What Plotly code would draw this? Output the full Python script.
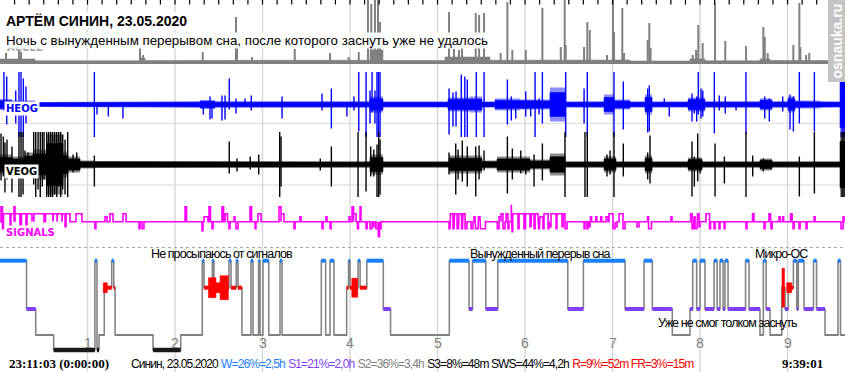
import plotly.graph_objects as go

# ---------------- data (time in minutes from the left edge of the chart) ----------------
T_END = 579.4
hour_ticks = [60, 120, 180, 240, 300, 360, 420, 480, 540]
hour_labels = ["1", "2", "3", "4", "5", "6", "7", "8", "9"]
minor_tick_step = 10

# ACCEL: background level (start time, height) and spikes
accel_env_t = [0, 24.0, 96.0, 99.4, 157.7, 253.7, 262.6, 305.1, 336.0, 384.0, 432.0, 473.1, 483.4, 521.1, 528.0]
accel_env_a = [3, 1.2, 4, 1.5, 1.8, 12, 1.5, 5, 1.8, 2, 1, 3, 1.2, 3, 1.5]
accel_spk_t = [4.1, 13.0, 14.4, 96.0, 98.1, 139.0, 161.8, 162.5, 172.8, 202.1, 226.3, 239.1, 246.0, 252.3, 254.6,
               257.1, 259.2, 260.6, 307.9, 311.3, 314.7, 316.8, 326.2, 328.5, 331.9, 343.3, 347.9, 351.3, 360.5, 371.9,
               384.5, 387.2, 387.9, 400.5, 402.7, 404.4, 416.2, 420.3, 421.0, 426.7, 427.9, 444.1, 445.2, 446.1, 475.0,
               477.3, 478.8, 481.8, 490.3, 497.3, 511.5, 523.4, 524.4, 526.4, 544.0, 548.1, 548.8, 552.7, 554.9]
accel_spk_h = [9, 12, 10, 14, 7, 10, 45, 15, 5, 13, 9, 5, 10, 62, 58,
               62, 62, 40, 50, 13, 12, 14, 49, 47, 49, 9, 60, 12, 12, 54,
               15, 62, 17, 15, 40, 32, 7, 62, 30, 54, 9, 22, 39, 14, 7,
               12, 37, 19, 59, 21, 16, 35, 25, 9, 17, 59, 15, 7, 9]

# HEOG: background amplitude (start time, half-range) and spikes
heog_env_t = [0, 8.2, 24.0, 32.2, 137.1, 147.4, 253.7, 262.6, 307.2, 322.3, 330.5, 339.4, 356.6, 377.1, 387.4,
              399.1, 414.2, 421.0, 432.0, 442.3, 447.1, 471.8, 483.4, 521.1, 529.4, 540.3, 545.1, 562.3, 576.0]
heog_env_a = [5.5, 4, 2.5, 3.2, 4.5, 3.2, 8, 3.1, 7, 8, 3.1, 6, 5, 17, 3.1,
              3.2, 10, 5, 3.1, 10, 3.1, 7, 3.2, 6, 3.2, 8, 4, 3.1, 33]
heog_spk_t = [2.7, 4.6, 10.8, 13.0, 14.4, 16.0, 17.8, 64.7, 66.5, 74.3, 84.3, 139.4, 144.0, 145.4, 152.2, 154.3,
              157.2, 161.8, 168.0, 172.3, 193.4, 220.8, 227.2, 237.9, 242.7, 246.0, 251.0, 253.7, 255.1, 257.1,
              258.5, 259.5, 260.6, 307.9, 310.6, 312.7, 316.3, 318.7, 320.4, 326.6, 331.9, 347.9, 350.6, 353.6,
              360.5, 363.9, 366.9, 369.6, 371.9, 387.9, 400.5, 402.7, 421.0, 427.4, 444.1, 445.2, 455.5, 458.9,
              474.5, 476.1, 477.7, 478.8, 480.7, 481.9, 489.8, 493.2, 497.3, 504.7, 511.5, 524.4, 527.5, 536.7,
              541.7, 544.0, 548.1, 558.4, 577.4, 578.7]
heog_spk_hi = [40, 28, 14, 40, 40, 26, 18, 40, 0, 0, 0, 0, 8, 0, 9, 9, 26, 6, 6, 9,
               8, 11, 16, 0, 8, 40, 40, 14, 40, 14, 40, 40, 40, 16, 12, 13, 30, 28, 25, 40,
               40, 25, 8, 0, 13, 4, 40, 6, 40, 40, 16, 40, 40, 23, 16, 19, 6, 0, 11, 0,
               8, 40, 16, 14, 40, 9, 8, 0, 40, 8, 6, 8, 10, 8, 40, 40, 40, 40]
heog_spk_lo = [-6, -20, -19, -40, -40, -40, -19, -40, -10, -12, -14, -10, -15, -14, -16, -15, -5, -9, 0, -6,
               -14, -6, -24, -12, -6, -27, -40, -19, -8, -19, -40, -40, -40, -30, -22, -22, -40, -40, -40, -40,
               -40, -20, -16, -14, -12, -12, -40, -10, -19, -40, -19, -40, -40, -25, -28, -27, 0, -12, -17, -9,
               -17, -10, -14, -12, -29, -6, -9, -6, -29, -14, -17, -7, -25, -27, -19, -27, -40, -40]

# VEOG
veog_env_t = [0, 8.2, 17.1, 22.6, 32.2, 43.2, 46.6, 54.9, 65.1, 253.7, 262.6, 307.9, 330.5, 340.8, 363.4, 377.1,
              387.4, 414.2, 422.4, 442.3, 447.1, 471.8, 481.4, 521.1, 529.4, 576.0]
veog_env_a = [10, 8, 12, 15, 30, 13, 8, 4, 3.2, 10, 3.2, 9, 4, 8, 5, 11,
              3.2, 8, 3.2, 9, 3.2, 7, 3.2, 6, 3.2, 33]
veog_spk_t = [0.7, 2.3, 3.4, 4.8, 8.2, 13.0, 14.4, 15.8, 17.1, 19.2, 23.1, 24.5, 26.1, 27.6, 29.0, 30.2, 32.0,
              33.4, 34.8, 36.1, 37.5, 38.9, 40.3, 41.6, 43.0, 44.6, 46.4, 50.1, 52.6, 64.7, 157.2, 162.5, 171.6,
              177.4, 191.8, 192.7, 219.6, 227.2, 245.5, 251.0, 254.2, 256.3, 258.5, 259.7, 260.6, 307.9, 312.5,
              314.1, 317.0, 320.4, 326.2, 328.5, 331.9, 347.9, 351.3, 357.1, 360.5, 366.2, 371.9, 387.4, 401.1,
              402.7, 416.2, 418.3, 421.0, 427.4, 444.1, 445.7, 474.5, 476.1, 478.4, 480.0, 490.3, 496.7, 511.5,
              516.1, 523.4, 548.1, 558.4, 577.4, 578.7]
veog_spk_hi = [31, 28, 22, 25, 18, 40, 40, 40, 14, 12, 40, 40, 40, 40, 40, 35, 40, 40, 40, 40,
               40, 40, 40, 35, 30, 25, 40, 10, 12, 9, 23, 6, 8, 10, 40, 28, 6, 18, 40, 35,
               18, 15, 20, 40, 25, 12, 21, 15, 24, 18, 18, 19, 14, 28, 16, 14, 6, 10, 21, 40,
               40, 35, 10, 14, 40, 21, 12, 29, 23, 8, 31, 6, 21, 8, 40, 9, 6, 8, 40, 40, 40]
veog_spk_lo = [-16, -12, -28, -15, -28, -40, -40, -30, -10, -6, -20, -40, -25, -40, -22, -15, -40, -40, -40, -40,
               -30, -40, -22, -40, -25, -30, -40, -8, -6, -22, -9, -7, -5, -10, -40, -22, -6, -22, -40, -27,
               -12, -12, -40, -40, -30, -10, -30, -15, -17, -22, -32, -15, -6, -29, -15, -9, -10, -22, -16, -40,
               -40, -40, -12, -10, -40, -12, -15, -19, -32, -22, -17, -9, -32, -19, -40, -12, -7, -32, -29, -40, -40]

# SIGNALS: pulses (start, end, level)
sig_t0 = [0.7, 1.7, 2.4, 6.9, 7.5, 9.6, 10.3, 13.7, 14.7, 17.8, 18.5, 21.9, 23.3, 31.2, 36.7, 39.4, 42.9, 44.6, 45.3, 52.1,
          65.1, 72.0, 75.4, 84.3, 95.3, 97.4, 126.9, 138.5, 139.9, 143.3, 145.4, 152.2, 154.3, 157.0, 160.5, 161.8, 171.4, 174.9, 176.9, 191.3,
          192.7, 201.6, 205.7, 220.8, 223.5, 226.3, 239.3, 241.4, 242.4, 245.1, 246.9, 251.0, 253.7, 255.8, 257.8, 259.5, 260.2,
          307.9, 308.9, 310.6, 311.7, 313.4, 314.7, 316.5, 317.5, 318.9, 323.0, 325.0, 326.1, 328.1, 329.5,
          341.0, 342.2, 343.5, 344.9, 347.0, 348.3, 350.6, 351.1, 351.6, 355.2, 355.9, 359.3, 360.3, 363.4, 364.5, 366.2, 366.9, 369.3,
          370.3, 372.3, 373.0, 375.8, 376.8, 377.8, 381.3, 381.9, 385.4, 386.1, 387.4,
          400.5, 402.5, 403.9, 404.9, 408.5, 411.9, 415.5, 417.6, 420.3, 421.7, 424.5, 427.2,
          436.8, 444.0, 444.7, 460.1, 473.6, 474.5, 475.9, 476.6, 478.3, 479.3, 484.1, 486.5, 489.6, 493.0, 496.5, 511.5, 516.0,
          523.9, 527.3, 528.7, 534.2, 536.6, 542.1, 543.8, 547.9, 552.7, 558.2, 576.7, 578.1]
sig_t1 = [1.7, 2.4, 6.9, 7.5, 9.6, 10.3, 13.7, 14.7, 17.8, 18.5, 21.9, 23.3, 30.2, 36.3, 39.1, 42.5, 44.6, 45.3, 48.0, 56.2,
          65.8, 73.4, 77.5, 86.4, 96.0, 98.7, 127.9, 139.2, 142.6, 144.3, 146.1, 153.3, 156.0, 157.7, 161.1, 163.2, 172.5, 175.5, 179.0, 192.7,
          194.7, 202.3, 206.4, 221.5, 224.2, 227.0, 240.0, 242.4, 244.1, 245.8, 247.5, 251.7, 255.1, 257.1, 259.2, 260.2, 261.3,
          308.6, 310.6, 311.3, 313.4, 314.4, 316.5, 317.1, 318.9, 320.2, 324.3, 325.7, 327.8, 329.1, 332.9,
          342.2, 343.5, 344.9, 346.3, 348.3, 349.0, 351.1, 351.6, 355.2, 355.9, 359.3, 360.3, 363.4, 364.1, 366.2, 366.9, 368.9, 369.9,
          372.3, 373.0, 375.8, 376.5, 377.8, 381.3, 381.9, 385.4, 386.1, 387.4, 388.8,
          401.1, 403.2, 404.6, 405.6, 409.2, 412.6, 416.9, 420.3, 421.7, 423.1, 427.2, 428.6,
          438.2, 444.7, 446.7, 460.8, 474.5, 475.5, 476.6, 477.9, 479.3, 480.0, 486.5, 487.2, 490.3, 493.7, 497.1, 512.2, 517.0,
          524.6, 528.3, 529.4, 534.9, 537.3, 543.1, 544.5, 548.6, 553.4, 558.9, 578.1, 578.7]
sig_lv = [15, -7, 8, -7, 8, 15, 8, -7, 8, -5, 8, 4, 8, 8, 8, 8, 8, -5, 8, 8,
          -7, 5, 8, 8, -7, -7, 15, -9, 5, 15, -7, 15, 8, -7, 5, -7, 15, -7, 8, 15,
          8, -7, 5, -7, 5, -7, 5, 15, 8, -7, 15, -7, -7, -5, -7, -15, -7,
          -7, 8, -7, 8, -7, 8, -7, 8, -7, -7, 5, -7, 5, -7,
          -7, 5, 8, -7, 8, -7, 17, -10, 8, -7, 8, -7, 8, -5, 8, -7, 8, -7,
          5, -7, 8, -7, -5, 8, -7, 8, -5, 8, -7,
          -7, -7, -5, 5, 5, 5, 5, 8, -7, -5, 8, -7,
          -5, 5, -7, 5, 8, -7, 5, -7, 8, -5, 8, -7, -7, -7, -7, -7, 8,
          -7, 8, -7, 5, 5, 8, -7, -7, -7, 5, -7, 5]

# Hypnogram: epoch start times and stages
hyp_t = [0, 18.2, 24.5, 36.8, 65.1, 66.5, 67.9, 71.5, 76.6, 78.0,
         78.9, 104.9, 123.9, 138.7, 139.9, 145.6, 146.7, 157.0, 158.4, 162.0,
         163.2, 165.9, 172.1, 173.5, 177.3, 178.3, 180.3, 184.3, 192.0, 193.4,
         220.3, 223.3, 226.3, 229.0, 237.7, 239.0, 240.0, 245.5, 246.9, 251.5,
         262.8, 267.8, 308.1, 321.6, 324.0, 333.1, 341.3, 389.3, 400.0, 428.6,
         441.6, 447.3, 461.0, 473.1, 475.0, 477.7, 480.0, 483.4, 489.6, 491.7,
         493.7, 495.8, 497.1, 499.2, 511.2, 513.6, 521.1, 523.4, 525.3, 528.0,
         536.0, 538.3, 540.5, 544.0, 546.3, 547.4, 551.3, 557.8, 559.9, 565.7,
         574.6, 576.3]
hyp_stage = ["W", "S1", "S2", "S3", "W", "S3", "S2", "R", "W", "R",
             "S2", "S3", "S2", "W", "R", "W", "R", "W", "R", "W",
             "R", "S2", "W", "S2", "W", "S2", "W", "S2", "W", "S2",
             "W", "S2", "W", "S2", "R", "W", "R", "W", "R", "W",
             "S1", "S2", "W", "S1", "W", "S1", "W", "S1", "W", "S1",
             "W", "S1", "S2", "S1", "W", "S1", "W", "S1", "W", "S1",
             "W", "S1", "W", "S1", "W", "S1", "S2", "W", "S1", "S2",
             "R", "S1", "R", "W", "S1", "W", "S1", "W", "S1", "S2",
             "W", "S2"]
# REM intensity blocks (start, end, half-height)
rem_t0 = [70.8, 142.9, 148.1, 150.9, 241.2, 536.2, 539.4]
rem_t1 = [73.6, 148.1, 150.9, 156.6, 245.3, 537.9, 542.9]
rem_h = [5, 10, 5, 12, 9.5, 19.5, 5]

title_text = "АРТЁМ СИНИН, 23.05.2020"
subtitle_text = "Ночь с вынужденным перерывом сна, после которого заснуть уже не удалось"
start_text = "23:11:03 (0:00:00)"
end_text = "9:39:01"
stats_parts = [("Синин, 23.05.2020", "#000000"), ("W=26%=2,5h", "#1a80ff"), ("S1=21%=2,0h", "#7f3fff"),
               ("S2=36%=3,4h", "#808080"), ("S3=8%=48m SWS=44%=4,2h", "#000000"), ("R=9%=52m FR=3%=15m", "#ff0000")]
notes = [("Не просыпаюсь от сигналов", 152.0, 117.7), ("Вынужденный перерыв сна", 370.1, 117.7),
         ("Микро-ОС", 536.0, 117.7), ("Уже не смог толком заснуть", 498.5, 48.7)]

# ---------------- styling ----------------
STAGE_Y = {"W": 111.3, "R": 84.3, "S1": 63.0, "S2": 37.0, "S3": 22.0}
STAGE_COLOR = {"W": "#1a80ff", "R": "#ff0000", "S1": "#7f3fff", "S2": "#808080", "S3": "#1a1a1a"}
STAGE_W = {"W": 4, "R": 4, "S1": 4, "S2": 2, "S3": 4.5}
SANS = "Liberation Sans, Arial, sans-serif"
SERIF = "Liberation Serif, Times New Roman, serif"
LBL = "DejaVu Sans, sans-serif"
TIGHT = "letter-spacing:-0.9px"
CORE = 0.7  # solid core of a noisy band, the rest drawn as a lighter fringe


def step_env(ts, amps, t_end):
    xs, ys = [], []
    for i, (t, a) in enumerate(zip(ts, amps)):
        t1 = ts[i + 1] if i + 1 < len(ts) else t_end
        xs += [t, t1]
        ys += [a, a]
    return xs, ys


def band(ts, amps, t_end, lower=None):
    xs, up = step_env(ts, amps, t_end)
    lo = [-v for v in up] if lower is None else [lower] * len(up)
    return xs + xs[::-1] + [xs[0]], up + lo[::-1] + [up[0]]


def spikes(ts, his, los):
    xs, ys = [], []
    for t, h, l in zip(ts, his, los):
        xs += [t, t, None]
        ys += [l, h, None]
    return xs, ys


def add_noise_band(fig, ts, amps, rgb, axis):
    bx, by = band(ts, amps, T_END)
    fig.add_trace(go.Scatter(x=bx, y=by, fill="toself", fillcolor="rgba(%s,0.45)" % rgb, mode="lines",
                             line=dict(width=0), yaxis=axis, hoverinfo="skip"))
    bx, by = band(ts, [a * CORE for a in amps], T_END)
    fig.add_trace(go.Scatter(x=bx, y=by, fill="toself", fillcolor="rgb(%s)" % rgb, mode="lines",
                             line=dict(color="rgb(%s)" % rgb, width=0.6), yaxis=axis, hoverinfo="skip"))


fig = go.Figure()

# ACCEL
bx, by = band(accel_env_t, accel_env_a, T_END, lower=-2.0)
fig.add_trace(go.Scatter(x=bx, y=by, fill="toself", fillcolor="#808080", mode="lines",
                         line=dict(color="#808080", width=0.6), yaxis="y", hoverinfo="skip"))
sx, sy = spikes(accel_spk_t, accel_spk_h, [0] * len(accel_spk_t))
fig.add_trace(go.Scatter(x=sx, y=sy, mode="lines", line=dict(color="#808080", width=2), yaxis="y", hoverinfo="skip"))

# HEOG
add_noise_band(fig, heog_env_t, heog_env_a, "0,0,255", "y2")
sx, sy = spikes(heog_spk_t, heog_spk_hi, heog_spk_lo)
fig.add_trace(go.Scatter(x=sx, y=sy, mode="lines", line=dict(color="#0000ff", width=1.4), yaxis="y2", hoverinfo="skip"))

# VEOG
add_noise_band(fig, veog_env_t, veog_env_a, "0,0,0", "y3")
sx, sy = spikes(veog_spk_t, veog_spk_hi, veog_spk_lo)
fig.add_trace(go.Scatter(x=sx, y=sy, mode="lines", line=dict(color="#000000", width=1.4), yaxis="y3", hoverinfo="skip"))

# SIGNALS
gx, gy = [0], [0]
for a, b, lv in zip(sig_t0, sig_t1, sig_lv):
    gx += [a, a, b, b]
    gy += [0, lv, lv, 0]
gx.append(T_END)
gy.append(0)
fig.add_trace(go.Scatter(x=gx, y=gy, mode="lines", line=dict(color="#ff00ff", width=1.6), yaxis="y4", hoverinfo="skip"))

# Hypnogram
step_x, step_y = [], []
segs = {s: ([], []) for s in STAGE_Y}
for i, (t, s) in enumerate(zip(hyp_t, hyp_stage)):
    t1 = hyp_t[i + 1] if i + 1 < len(hyp_t) else T_END
    step_x += [t, t1]
    step_y += [STAGE_Y[s], STAGE_Y[s]]
    segs[s][0].extend([t, t1, None])
    segs[s][1].extend([STAGE_Y[s], STAGE_Y[s], None])
fig.add_trace(go.Scatter(x=step_x, y=step_y, mode="lines", line=dict(color="#858585", width=1.6),
                         yaxis="y5", hoverinfo="skip"))
for s in ["S2", "S3", "S1", "W", "R"]:
    fig.add_trace(go.Scatter(x=segs[s][0], y=segs[s][1], mode="lines",
                             line=dict(color=STAGE_COLOR[s], width=STAGE_W[s]), yaxis="y5", hoverinfo="skip"))
rx, ry = [], []
for a, b, h in zip(rem_t0, rem_t1, rem_h):
    yc = STAGE_Y["R"]
    rx += [a, b, b, a, a, None]
    ry += [yc - h, yc - h, yc + h, yc + h, yc - h, None]
fig.add_trace(go.Scatter(x=rx, y=ry, fill="toself", fillcolor="#ff0000", mode="lines",
                         line=dict(color="#ff0000", width=0.5), yaxis="y5", hoverinfo="skip"))

# 10-minute ticks along the top edge (drawn in the ACCEL panel, whose top is y=62)
tk_x, tk_y = [], []
tk = minor_tick_step
while tk < T_END:
    tk_x += [tk, tk, None]
    tk_y += [62, 57.5, None]
    tk += minor_tick_step
fig.add_trace(go.Scatter(x=tk_x, y=tk_y, mode="lines", line=dict(color="#000000", width=1.2),
                         yaxis="y", hoverinfo="skip"))

# ---------------- layout ----------------
def paper_y(px):
    return (372 - px) / 372


shapes = []
for hx in hour_ticks:
    shapes.append(dict(type="line", xref="x", yref="paper", x0=hx, x1=hx, y0=0, y1=1,
                       line=dict(color="#d6d6d6", width=1.4), layer="below"))
for py in (61.7, 123.3, 185.0):
    shapes.append(dict(type="line", xref="paper", yref="paper", x0=0, x1=1, y0=paper_y(py), y1=paper_y(py),
                       line=dict(color="#d9d9d9", width=1), layer="below"))
shapes.append(dict(type="line", xref="paper", yref="paper", x0=0, x1=1, y0=paper_y(247.5), y1=paper_y(247.5),
                   line=dict(color="#a8a8a8", width=1, dash="3px,3px"), layer="below"))
shapes.append(dict(type="rect", xref="paper", yref="paper", x0=828 / 845, x1=1, y0=paper_y(82), y1=1,
                   fillcolor="#c4c4c4", line=dict(width=0), layer="above"))

ann = []
ann.append(dict(text="<b>ACCEL</b>", x=5 / 845, y=paper_y(47.5), xref="paper", yref="paper", xanchor="left",
                yanchor="middle", showarrow=False, font=dict(family=LBL, size=10, color="#a0a0a0")))
ann.append(dict(text="<b>" + title_text + "</b>", x=5 / 845, y=paper_y(21), xref="paper", yref="paper",
                xanchor="left", yanchor="middle", showarrow=False, font=dict(family=SANS, size=14, color="#000"),
                bgcolor="#ffffff", borderpad=0))
ann.append(dict(text=subtitle_text, x=5 / 845, y=paper_y(40), xref="paper", yref="paper",
                xanchor="left", yanchor="middle", showarrow=False, font=dict(family=SANS, size=13.3, color="#000"),
                bgcolor="#ffffff", borderpad=0))
for txt, col, py in (("HEOG", "#0000ff", 109), ("VEOG", "#000000", 171), ("SIGNALS", "#ff00ff", 232.5)):
    ann.append(dict(text="<b>" + txt + "</b>", x=4 / 845, y=paper_y(py), xref="paper", yref="paper",
                    xanchor="left", yanchor="middle", showarrow=False, font=dict(family=LBL, size=10, color=col),
                    bgcolor="#ffffff", borderpad=1))
ann.append(dict(text="<b>osnauka.ru</b>", x=836.5 / 845, y=paper_y(41), xref="paper", yref="paper",
                xanchor="center", yanchor="middle", textangle=-90, showarrow=False,
                font=dict(family=SANS, size=14, color="#ffffff")))
for hx, lab in zip(hour_ticks, hour_labels):
    ann.append(dict(text=lab, x=hx, y=29, xref="x", yref="y5", xanchor="center", yanchor="middle",
                    showarrow=False, font=dict(family=SANS, size=14, color="#808080")))
for txt, tx, ty in notes:
    ann.append(dict(text='<span style="%s">%s</span>' % (TIGHT, txt), x=tx, y=ty, xref="x", yref="y5",
                    xanchor="center", yanchor="middle", showarrow=False,
                    font=dict(family=SANS, size=12.5, color="#000")))
ann.append(dict(text="<b>" + start_text + "</b>", x=7 / 845, y=paper_y(363.5), xref="paper", yref="paper",
                xanchor="left", yanchor="middle", showarrow=False, font=dict(family=SERIF, size=13, color="#000")))
ann.append(dict(text="<b>" + end_text + "</b>", x=824.5 / 845, y=paper_y(363.5), xref="paper", yref="paper",
                xanchor="right", yanchor="middle", showarrow=False, font=dict(family=SERIF, size=13, color="#000")))
stats_html = " ".join('<span style="color:%s;%s">%s</span>' % (c, TIGHT, s) for s, c in stats_parts)
ann.append(dict(text=stats_html, x=129 / 845, y=paper_y(363.5), xref="paper", yref="paper",
                xanchor="left", yanchor="middle", showarrow=False, font=dict(family=SANS, size=12, color="#000")))

hidden = dict(visible=False, fixedrange=True)
fig.update_layout(
    width=845, height=372, margin=dict(l=0, r=0, t=0, b=0),
    paper_bgcolor="#ffffff", plot_bgcolor="rgba(0,0,0,0)", showlegend=False,
    xaxis=dict(range=[0, T_END], domain=[0, 1], anchor="y", showticklabels=False, showgrid=False,
               zeroline=False, showline=False, ticks="", fixedrange=True),
    yaxis=dict(domain=[paper_y(64), 1], range=[-2, 62], anchor="x", **hidden),
    yaxis2=dict(domain=[paper_y(137), paper_y(72)], range=[-32.5, 32.5], anchor="x", **hidden),
    yaxis3=dict(domain=[paper_y(197), paper_y(132)], range=[-32.5, 32.5], anchor="x", **hidden),
    yaxis4=dict(domain=[paper_y(246), paper_y(198)], range=[-24.3, 23.7], anchor="x", **hidden),
    yaxis5=dict(domain=[0, paper_y(248)], range=[0, 124], anchor="x", **hidden),
    shapes=shapes, annotations=ann,
)

fig.write_html("out.html", config={"displayModeBar": False, "staticPlot": True},
               post_script="document.body.style.margin='0px';document.body.style.overflow='hidden';")
